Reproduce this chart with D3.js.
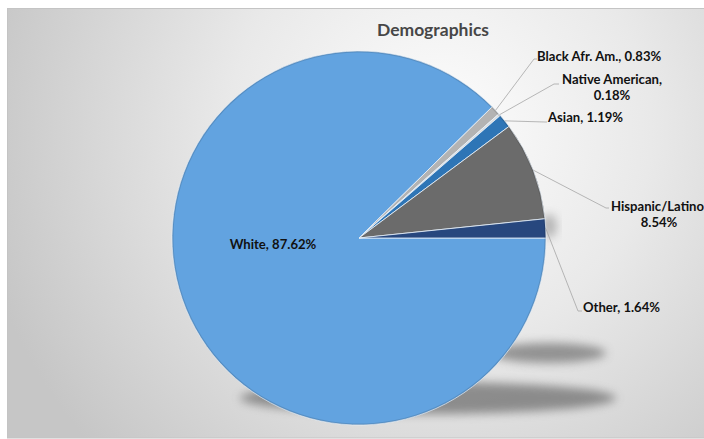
<!DOCTYPE html>
<html><head><meta charset="utf-8">
<script src="https://cdn.jsdelivr.net/npm/d3@7"></script>
<style>
html,body{margin:0;padding:0;background:#fff;}
svg{display:block;}
text{font-family:Lato,"Open Sans",sans-serif;font-weight:bold;}
</style></head>
<body>
<svg id="chart" width="704" height="439"></svg>
<script>
const categories = ["White", "Black Afr. Am.", "Native American", "Asian", "Hispanic/Latino", "Other"];
const values = [87.62, 0.83, 0.18, 1.19, 8.54, 1.64];
const labelTexts = [["White, 87.62%"], ["Black Afr. Am., 0.83%"], ["Native American,", "0.18%"], ["Asian, 1.19%"], ["Hispanic/Latino", "8.54%"], ["Other, 1.64%"]];
const colors = ["#62a3e0", "#b3b3b3", "#dcdcdc", "#2e75b6", "#6b6b6b", "#27477e"];
const title = "Demographics";

const W = 704, H = 439;
const svg = d3.select("#chart");
const defs = svg.append("defs");

const bg = defs.append("radialGradient").attr("id", "bg")
  .attr("gradientUnits", "userSpaceOnUse").attr("cx", 440).attr("cy", 130).attr("r", 470);
bg.append("stop").attr("offset", "0%").attr("stop-color", "#fdfdfd");
bg.append("stop").attr("offset", "45%").attr("stop-color", "#e9e9e9");
bg.append("stop").attr("offset", "100%").attr("stop-color", "#c6c6c6");

const blur = defs.append("filter").attr("id", "blur").attr("x", "-30%").attr("y", "-100%").attr("width", "160%").attr("height", "300%");
blur.append("feGaussianBlur").attr("stdDeviation", 5);

svg.append("rect").attr("x", 7.5).attr("y", 8.5).attr("width", W - 7).attr("height", H - 9.5)
  .attr("fill", "url(#bg)").attr("stroke", "#c4c4c4").attr("stroke-width", 1);

// shadows
svg.append("ellipse").attr("cx", 428).attr("cy", 398).attr("rx", 188).attr("ry", 16)
  .attr("fill", "#777").attr("opacity", 0.8).attr("filter", "url(#blur)");
svg.append("ellipse").attr("cx", 548).attr("cy", 353).attr("rx", 58).attr("ry", 10)
  .attr("fill", "#777").attr("opacity", 0.75).attr("filter", "url(#blur)");
svg.append("ellipse").attr("cx", 549).attr("cy", 226).attr("rx", 8).attr("ry", 12)
  .attr("fill", "#7f7f7f").attr("opacity", 0.5).attr("filter", "url(#blur)");

// pie
const cx = 359, cy = 238, R = 187;
const pie = d3.pie().sort(null).value(d => d).startAngle(Math.PI / 2).endAngle(Math.PI / 2 + 2 * Math.PI);
const arcs = pie(values);
const arc = d3.arc().innerRadius(0).outerRadius(R);
const g = svg.append("g").attr("transform", `translate(${cx},${cy})`);
g.selectAll("path.slice").data(arcs).enter().append("path").attr("class", "slice")
  .attr("d", arc).attr("fill", (d, i) => colors[i])
  .attr("stroke", "#e8f1fa").attr("stroke-width", 0.8).attr("stroke-linejoin", "round");
const rim = d3.arc().innerRadius(R - 1.5).outerRadius(R);
g.selectAll("path.rim").data(arcs).enter().append("path").attr("class", "rim")
  .attr("d", rim).attr("fill", "#000").attr("opacity", 0.12);

const labelLayout = [
  {inside: true, x: 273, y: 244},
  {lx: 534, ly: 59, hx: 537, tx: [537], ty: 56, anchor: ["start"]},
  {lx: 554, ly: 84, hx: 559, tx: [612, 612], ty: 79, anchor: ["middle", "middle"]},
  {lx: 545, ly: 122, hx: 547, tx: [548], ty: 117, anchor: ["start"]},
  {lx: 606, ly: 208, hx: 609, tx: [611, 659], ty: 206, anchor: ["start", "middle"]},
  {lx: 578, ly: 311, hx: 582, tx: [583], ty: 307, anchor: ["start"]}
];
const lineH = 16.5, fs = 13.1;
arcs.forEach((a, i) => {
  const L = labelLayout[i];
  if (L.inside) {
    svg.append("text").attr("x", L.x).attr("y", L.y).attr("dy", "0.35em")
      .attr("text-anchor", "middle").attr("font-size", fs).attr("fill", "#111")
      .text(labelTexts[i][0]);
    return;
  }
  const m = (a.startAngle + a.endAngle) / 2;
  const px = cx + R * Math.sin(m), py = cy - R * Math.cos(m);
  svg.append("polyline").attr("points", `${px},${py} ${L.lx},${L.ly} ${L.hx},${L.ly}`)
    .attr("fill", "none").attr("stroke", "#a6a6a6").attr("stroke-width", 0.8);
  labelTexts[i].forEach((t, k) => {
    svg.append("text").attr("x", L.tx[k]).attr("y", L.ty + k * lineH).attr("dy", "0.35em")
      .attr("text-anchor", L.anchor[k]).attr("font-size", fs).attr("fill", "#111").text(t);
  });
});

svg.append("text").attr("x", 433).attr("y", 30).attr("dy", "0.35em").attr("text-anchor", "middle")
  .attr("font-size", 17.5).attr("fill", "#474747").text(title);
</script>
</body></html>
